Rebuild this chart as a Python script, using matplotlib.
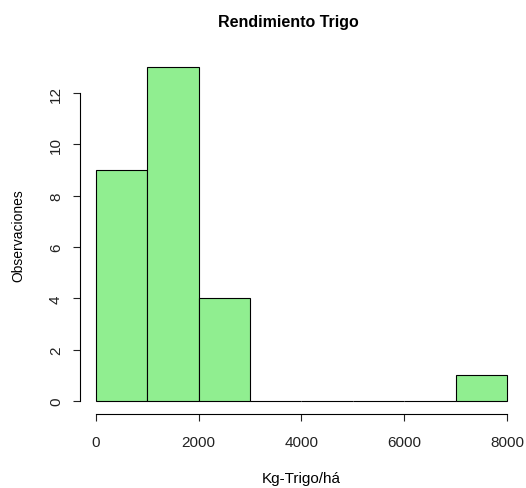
import numpy as np
import matplotlib.pyplot as plt

# histogram data: bin edges and counts
bin_edges = [0, 1000, 2000, 3000, 4000, 5000, 6000, 7000, 8000]
counts = [9, 13, 4, 0, 0, 0, 0, 1]
x_ticks = [0, 2000, 4000, 6000, 8000]
y_ticks = [0, 2, 4, 6, 8, 10, 12]

plt.rcParams['font.family'] = ['Liberation Sans', 'DejaVu Sans']

fig = plt.figure(figsize=(5.26, 4.89), dpi=100)
ax = fig.add_axes([0.1513, 0.1507, 0.8437, 0.7368])

lefts = np.array(bin_edges[:-1])
widths = np.diff(bin_edges)
ax.bar(lefts, counts, width=widths, align='edge', color='#90EE90',
       edgecolor='black', linewidth=0.8)

ax.set_xlim(-320, 8320)
ax.set_ylim(-0.52, 13.52)

for s in ['top', 'right']:
    ax.spines[s].set_visible(False)
ax.spines['bottom'].set_bounds(0, 8000)
ax.spines['left'].set_bounds(0, 12)
ax.spines['bottom'].set_linewidth(0.8)
ax.spines['left'].set_linewidth(0.8)

ax.set_xticks(x_ticks)
ax.set_yticks(y_ticks)
ax.set_yticklabels([str(v) for v in y_ticks], rotation=90, va='center')
ax.tick_params(axis='x', length=5, width=0.8, pad=10, labelsize=11, colors='#222222')
ax.tick_params(axis='y', length=5, width=0.8, pad=7, labelsize=11, colors='#222222')

ax.set_xlabel('Kg-Trigo/há', fontsize=11, labelpad=16)
ax.set_ylabel('Observaciones', fontsize=10, labelpad=17)
fig.text(0.549, 0.953, 'Rendimiento Trigo', fontsize=11.5, fontweight='bold',
         ha='center', va='center')

plt.savefig('out.png', dpi=100)
